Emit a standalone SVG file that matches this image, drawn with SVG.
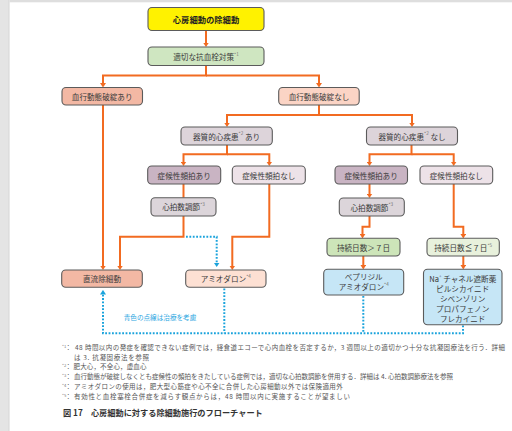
<svg xmlns="http://www.w3.org/2000/svg" width="512" height="431" viewBox="0 0 512 431">
<style>
.bg{fill:#ffffff}
.box{stroke:#5b5b5b;stroke-width:1.1}
.t{font-family:"Noto Sans CJK JP","Noto Sans",sans-serif;font-size:7.6px;fill:#3a3a3a;text-anchor:middle;dominant-baseline:central}
.b{font-weight:bold;font-size:8.3px;fill:#222}
.sup{font-size:4.6px;fill:#777}
.or{fill:none;stroke:#f26b21;stroke-width:2}
.bl{fill:none;stroke:#1aa3dc;stroke-width:2;stroke-dasharray:1.8 1.6}
.fn{font-family:"Noto Sans CJK JP","Noto Sans",sans-serif;font-size:6.5px;fill:#555}
.fs{font-size:4.2px;fill:#777}
.cap{font-family:"Noto Sans CJK JP","Noto Sans",sans-serif;font-size:8.2px;font-weight:bold;fill:#333}
.note{font-family:"Noto Sans CJK JP","Noto Sans",sans-serif;font-size:6.6px;fill:#2aa6df;text-anchor:middle;dominant-baseline:central}
</style>
<defs>
<marker id="ao" viewBox="0 0 5 6" refX="1.5" refY="3" markerWidth="5" markerHeight="6" markerUnits="userSpaceOnUse" orient="auto"><path d="M0,0 L4.6,3 L0,6 z" fill="#f26b21"/></marker>
<marker id="ab" viewBox="0 0 5 6" refX="1.5" refY="3" markerWidth="5" markerHeight="6" markerUnits="userSpaceOnUse" orient="auto"><path d="M0,0 L4.6,3 L0,6 z" fill="#1aa3dc"/></marker>
</defs>
<rect class="bg" x="0" y="0" width="512" height="431"/>
<rect x="0" y="0" width="8.5" height="431" fill="#e4e4e4"/>
<rect x="8.3" y="0" width="1.2" height="431" fill="#d4d4d4"/>
<rect x="9.5" y="0" width="502.5" height="2.3" fill="#dedede"/>

<g id="connectors">
<path class="or" d="M206 31 V44" marker-end="url(#ao)"/>
<path class="or" d="M206 65.5 V75.5 H103 V84.5" marker-end="url(#ao)"/>
<path class="or" d="M206 75.5 H319 V84.5" marker-end="url(#ao)"/>
<path class="or" d="M103 105 V267" marker-end="url(#ao)"/>
<path class="or" d="M319 105 V115 H227 V124" marker-end="url(#ao)"/>
<path class="or" d="M319 115 H412 V124" marker-end="url(#ao)"/>
<path class="or" d="M227 145 V154.3 H183.5 V163" marker-end="url(#ao)"/>
<path class="or" d="M227 154.3 H269.3 V163" marker-end="url(#ao)"/>
<path class="or" d="M183.5 184 V197.7"/>
<path class="or" d="M183.5 216 V236.7 H120 V267" marker-end="url(#ao)"/>
<path class="or" d="M269.3 184 V236.7 H232.3 V267" marker-end="url(#ao)"/>
<path class="or" d="M411.5 145 V154.3 H369.5 V163" marker-end="url(#ao)"/>
<path class="or" d="M411.5 154.3 H453.7 V163" marker-end="url(#ao)"/>
<path class="or" d="M369.5 184 V195" marker-end="url(#ao)"/>
<path class="or" d="M369.5 216 V226.7 H362.5 V235.3" marker-end="url(#ao)"/>
<path class="or" d="M453.7 184 V226.7 H463.3 V235.3" marker-end="url(#ao)"/>
<path class="or" d="M363.3 256 V266.3" marker-end="url(#ao)"/>
<path class="or" d="M463.3 256 V266.3" marker-end="url(#ao)"/>
<path class="bl" d="M186 236.7 H216.7 V264" marker-end="url(#ab)"/>
<path class="bl" d="M463 325.5 V333.3 H103 V293" marker-end="url(#ab)"/>
<path class="bl" d="M224.3 288.5 V333.3"/>
<path class="bl" d="M363.3 296 V333.3"/>
<text class="note" x="160" y="316.7">青色の点線は治療を考慮</text>
</g>

<g id="n-title"><rect class="box" x="148" y="7.5" width="116" height="23" rx="4" fill="#fff200"/><text class="t b" x="206" y="19">心房細動の除細動</text></g>
<g id="n-antithrombotic"><rect class="box" x="148" y="47" width="116" height="18.5" rx="4" fill="#cfe6c1"/><text class="t" x="206" y="56.2">適切な抗血栓対策<tspan class="sup" dy="-2.6">*1</tspan></text></g>
<g id="n-hemo-yes"><rect class="box" x="62" y="87.5" width="80.5" height="17.5" rx="4" fill="#f3b8a4"/><text class="t" x="102.2" y="96.2">血行動態破綻あり</text></g>
<g id="n-hemo-no"><rect class="box" x="278.7" y="87.5" width="80.5" height="17.5" rx="4" fill="#fbd4c5"/><text class="t" x="319" y="96.2">血行動態破綻なし</text></g>
<g id="n-organic-yes"><rect class="box" x="181" y="127" width="91.3" height="18" rx="4" fill="#ddd4da"/><text class="t" x="226.6" y="136">器質的心疾患<tspan class="sup" dy="-2.6">*2</tspan><tspan dy="2.6"> あり</tspan></text></g>
<g id="n-organic-no"><rect class="box" x="366.5" y="127" width="91" height="18" rx="4" fill="#ddd4da"/><text class="t" x="412" y="136">器質的心疾患<tspan class="sup" dy="-2.6">*2</tspan><tspan dy="2.6"> なし</tspan></text></g>
<g id="n-sym-yes-l"><rect class="box" x="147.7" y="166" width="73" height="18" rx="4" fill="#c9b4c3"/><text class="t" x="184.2" y="175">症候性頻拍あり</text></g>
<g id="n-sym-no-l"><rect class="box" x="232.3" y="166" width="73" height="18" rx="4" fill="#ede2e8"/><text class="t" x="268.8" y="175">症候性頻拍なし</text></g>
<g id="n-rate-l"><rect class="box" x="151" y="197.7" width="65" height="18.3" rx="4" fill="#dcd5da"/><text class="t" x="183.5" y="206.9">心拍数調節<tspan class="sup" dy="-2.6">*3</tspan></text></g>
<g id="n-sym-yes-r"><rect class="box" x="335" y="166" width="72.5" height="18" rx="4" fill="#c9b4c3"/><text class="t" x="371.2" y="175">症候性頻拍あり</text></g>
<g id="n-sym-no-r"><rect class="box" x="420" y="166" width="72.7" height="18" rx="4" fill="#ede2e8"/><text class="t" x="456.3" y="175">症候性頻拍なし</text></g>
<g id="n-rate-r"><rect class="box" x="339.3" y="198" width="65" height="18" rx="4" fill="#dcd5da"/><text class="t" x="371.8" y="207">心拍数調節<tspan class="sup" dy="-2.6">*3</tspan></text></g>
<g id="n-dur-gt7"><rect class="box" x="327" y="238.3" width="73" height="17.7" rx="4" fill="#cde5b9"/><text class="t" x="363.5" y="247.2">持続日数＞７日</text></g>
<g id="n-dur-le7"><rect class="box" x="427" y="238.3" width="72.3" height="17.7" rx="4" fill="#e8f1dc"/><text class="t" x="463.2" y="247.2">持続日数≦７日<tspan class="sup" dy="-2.6">*5</tspan></text></g>
<g id="n-bepridil"><rect class="box" x="323.7" y="269.3" width="80" height="25.7" rx="4" fill="#c6e6f6"/><text class="t" x="363.7" y="276.8">ベプリジル</text><text class="t" x="363.7" y="286.8">アミオダロン<tspan class="sup" dy="-2.6">*4</tspan></text></g>
<g id="n-na"><rect class="box" x="423.5" y="269.3" width="78.5" height="55.5" rx="4" fill="#c6e6f6"/>
<text class="t" x="462.7" y="278.4">Na<tspan class="sup" dy="-2.6">+</tspan><tspan dy="2.6"> チャネル遮断薬</tspan></text>
<text class="t" x="462.7" y="288.5">ピルシカイニド</text>
<text class="t" x="462.7" y="298.4">シベンゾリン</text>
<text class="t" x="462.7" y="308.5">プロパフェノン</text>
<text class="t" x="462.7" y="318.3">フレカイニド</text></g>
<g id="n-dc"><rect class="box" x="61.7" y="270" width="80.6" height="17.3" rx="4" fill="#f3b8a4"/><text class="t" x="102" y="278.7">直流除細動</text></g>
<g id="n-amio"><rect class="box" x="185.7" y="270" width="80.3" height="17.3" rx="4" fill="#fde0d3"/><text class="t" x="225.8" y="278.7">アミオダロン<tspan class="sup" dy="-2.6">*4</tspan></text></g>

<g id="footnotes">
<text class="fn" x="62" y="350.2"><tspan class="fs" dy="-2">*1</tspan></text><text class="fn" x="65" y="350.2">：</text>
<text class="fn" x="75" y="350.2" textLength="430" lengthAdjust="spacing">48 時間以内の発症を確認できない症例では，経食道エコーで心内血栓を否定するか，3 週間以上の適切かつ十分な抗凝固療法を行う．詳細</text>
<text class="fn" x="74" y="360" textLength="75" lengthAdjust="spacing">は 3. 抗凝固療法を参照</text>
<text class="fn" x="62" y="369.2"><tspan class="fs" dy="-2">*2</tspan></text><text class="fn" x="65" y="369.2">：</text>
<text class="fn" x="73.5" y="369.2" textLength="73" lengthAdjust="spacing">肥大心，不全心，虚血心</text>
<text class="fn" x="62" y="379"><tspan class="fs" dy="-2">*3</tspan></text><text class="fn" x="65" y="379">：</text>
<text class="fn" x="74" y="379" textLength="379" lengthAdjust="spacing">血行動態が破綻しなくとも症候性の頻拍をきたしている症例では，適切な心拍数調節を併用する．詳細は 4. 心拍数調節療法を参照</text>
<text class="fn" x="62" y="388.9"><tspan class="fs" dy="-2">*4</tspan></text><text class="fn" x="65" y="388.9">：</text>
<text class="fn" x="74" y="388.9" textLength="268.7" lengthAdjust="spacing">アミオダロンの使用は，肥大型心筋症や心不全に合併した心房細動以外では保険適用外</text>
<text class="fn" x="62" y="398.8"><tspan class="fs" dy="-2">*5</tspan></text><text class="fn" x="65" y="398.8">：</text>
<text class="fn" x="74" y="398.8" textLength="276" lengthAdjust="spacing">有効性と血栓塞栓合併症を減らす観点からは，48 時間以内に実施することが望ましい</text>
<text class="cap" x="63" y="415.5">図 17　心房細動に対する除細動施行のフローチャート</text>
</g>
</svg>
